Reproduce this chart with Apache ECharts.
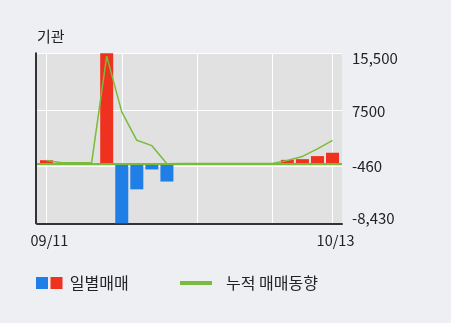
<!DOCTYPE html>
<html>
<head>
<meta charset="utf-8">
<script src="https://cdn.jsdelivr.net/npm/echarts@6/dist/echarts.min.js"></script>
<style>
html,body{margin:0;padding:0;background:#eeeff3;}
#c{width:451px;height:323px;}
</style>
</head>
<body>
<div id="c"></div>
<script>
// ---- data ----
const dates = ['09/11','09/12','09/13','09/14','09/15','09/18','09/19','09/20','09/21','09/22','09/25','09/26','09/27','10/04','10/05','10/06','10/10','10/11','10/12','10/13'];
const dailyTrades = [450, -200, 0, 0, 15500, -8430, -3650, -850, -2550, 0, 0, 0, 0, 0, 0, 0, 500, 600, 1030, 1500];
const cumulativeTrades = [400, 100, 100, 100, 15100, 7250, 3250, 2500, -50, 0, 0, 0, 0, 0, 0, 0, 400, 980, 2050, 3250];
const yTickValues = [15500, 7523, -453, -8430];
const yTickLabels = ['15,500', '7500', '-460', '-8,430'];
const xGridIndices = [0, 5, 10, 15, 19];
const xLabelIndices = [0, 19];
const seriesNames = ['일별매매', '누적 매매동향'];
const titleText = '기관';

// ---- style ----
const FONT = '"Noto Sans CJK KR", "Noto Sans", sans-serif';
const RED = '#ef3120';
const BLUE = '#1f7fe7';
const GREEN = '#79bb3b';
const TXT = '#222';

const chart = echarts.init(document.getElementById('c'), null, {renderer: 'canvas'});
const yPad = [[9,0,0,0],[2,0,0,0],[0,0,1,0],[0,0,10,0]];
const rich = {};
yTickLabels.forEach((l, i) => {
  rich['s' + i] = {fontSize: 15, fontFamily: FONT, color: TXT, padding: yPad[i]};
});

chart.setOption({
  backgroundColor: '#eeeff3',
  animation: false,
  title: {
    text: titleText, left: 32, top: 24,
    textStyle: {fontSize: 15, fontWeight: 'normal', color: TXT, fontFamily: FONT}
  },
  grid: {
    left: 37, right: 109, top: 53.3, bottom: 99.7,
    show: true, backgroundColor: '#e1e1e1', borderWidth: 0, containLabel: false
  },
  legend: [
    {
      data: [{
        name: seriesNames[0],
        icon: 'path://M0,0H12V12H0Z M14.5,0H26.5V12H14.5Z',
        itemStyle: {color: {type: 'linear', x: 0, y: 0, x2: 1, y2: 0,
          colorStops: [{offset: 0, color: BLUE}, {offset: 0.5, color: BLUE}, {offset: 0.5, color: RED}, {offset: 1, color: RED}]}}
      }],
      left: 36, top: 275, itemWidth: 27, itemHeight: 12, padding: 0, selectedMode: false,
      textStyle: {fontSize: 16, color: TXT, fontFamily: FONT, padding: [0, 0, 0, 2]}
    },
    {
      data: [{name: seriesNames[1], icon: 'rect', itemStyle: {color: GREEN}}],
      left: 180, top: 275, itemWidth: 32, itemHeight: 4, padding: 0, selectedMode: false,
      textStyle: {fontSize: 16, color: TXT, fontFamily: FONT, padding: [0, 0, 0, 9]}
    }
  ],
  xAxis: {
    type: 'value', min: -0.63, max: 19.63,
    axisLine: {show: true, onZero: false, lineStyle: {color: '#333', width: 2}},
    axisTick: {show: false, customValues: xGridIndices},
    splitLine: {show: true, lineStyle: {color: '#ffffff', width: 1}},
    axisLabel: {
      customValues: xLabelIndices, margin: 10,
      fontSize: 14.5, color: TXT, fontFamily: FONT, padding: [0, 0, 0, 6],
      formatter: v => dates[Math.round(v)]
    }
  },
  yAxis: [
    {
      type: 'value', position: 'right', min: -8430, max: 15500,
      axisLine: {show: false},
      axisTick: {show: false, customValues: yTickValues},
      splitLine: {show: true, lineStyle: {color: '#ffffff', width: 1}},
      axisLabel: {
        customValues: yTickValues, margin: 10, align: 'left',
        formatter: v => {
          let best = 0;
          yTickValues.forEach((t, i) => { if (Math.abs(t - v) < Math.abs(yTickValues[best] - v)) best = i; });
          return '{s' + best + '|' + yTickLabels[best] + '}';
        },
        rich: rich
      }
    },
    {
      type: 'value', position: 'left', min: -8430, max: 15500, offset: 1,
      axisLine: {show: true, lineStyle: {color: '#333', width: 2}},
      axisTick: {show: false}, axisLabel: {show: false}, splitLine: {show: false}
    }
  ],
  series: [
    {
      name: seriesNames[0], type: 'bar', barWidth: 13, z: 2,
      data: dailyTrades.map((v, i) => [i, v]),
      itemStyle: {color: p => (p.value[1] >= 0 ? RED : BLUE)},
      markLine: {
        silent: true, symbol: 'none', label: {show: false},
        lineStyle: {color: GREEN, width: 2, type: 'solid'},
        data: [{yAxis: 0}]
      }
    },
    {
      name: seriesNames[1], type: 'line', z: 3, symbol: 'none',
      data: cumulativeTrades.map((v, i) => [i, v]),
      lineStyle: {color: GREEN, width: 1.5},
      itemStyle: {color: GREEN}
    }
  ]
});
</script>
</body>
</html>
